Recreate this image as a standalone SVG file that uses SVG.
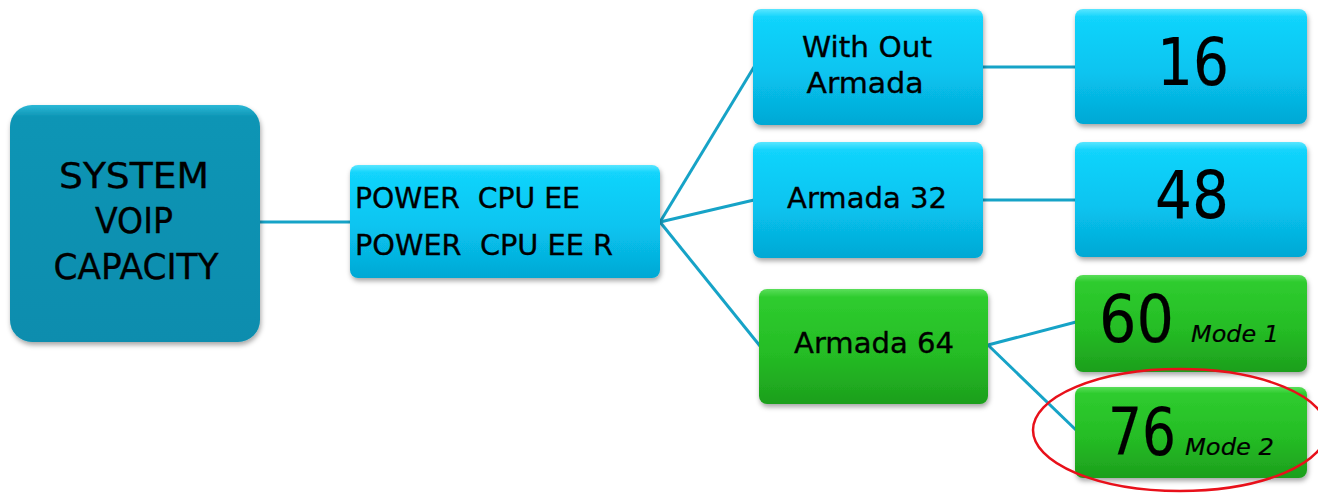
<svg xmlns="http://www.w3.org/2000/svg" width="1318" height="495" viewBox="0 0 1318 495">
<defs>
<linearGradient id="gCyan" x1="0" y1="0" x2="0" y2="1">
<stop offset="0" stop-color="#5ae6ff"/>
<stop offset="0.07" stop-color="#12d4fc"/>
<stop offset="0.55" stop-color="#08c4f0"/>
<stop offset="1" stop-color="#04a8d4"/>
</linearGradient>
<linearGradient id="gGreen" x1="0" y1="0" x2="0" y2="1">
<stop offset="0" stop-color="#5ade5a"/>
<stop offset="0.07" stop-color="#2fcc2f"/>
<stop offset="0.55" stop-color="#25bd25"/>
<stop offset="1" stop-color="#1d9f1d"/>
</linearGradient>
<linearGradient id="gTeal" x1="0" y1="0" x2="0" y2="1">
<stop offset="0" stop-color="#2cb8d6"/>
<stop offset="0.05" stop-color="#0c95b5"/>
<stop offset="1" stop-color="#088dae"/>
</linearGradient>
<filter id="sh" x="-10%" y="-10%" width="120%" height="130%">
<feDropShadow dx="1" dy="3" stdDeviation="2.5" flood-color="#000" flood-opacity="0.35"/>
</filter>
</defs>
<style>
.box{filter:url(#sh);}
.cyan{fill:url(#gCyan);}
.green{fill:url(#gGreen);}
.teal{fill:url(#gTeal);}
.t{font-family:"DejaVu Sans",Verdana,sans-serif;fill:#000;stroke:#000;stroke-width:0.35;}
.c{text-anchor:middle;}
.lbl{font-size:29px;}
.num{font-size:66px;stroke-width:0.2;}
.mode{font-size:23px;font-style:italic;stroke-width:0.2;}
.conn{stroke:#16a3c7;stroke-width:3;fill:none;}
</style>
<rect width="1318" height="495" fill="#fff"/>
<g id="connectors">
<line class="conn" x1="258" y1="222" x2="352" y2="222"/>
<line class="conn" x1="660" y1="222" x2="754" y2="67"/>
<line class="conn" x1="660" y1="222" x2="754" y2="200"/>
<line class="conn" x1="660" y1="222" x2="760" y2="346"/>
<line class="conn" x1="982" y1="67" x2="1076" y2="67"/>
<line class="conn" x1="982" y1="200" x2="1076" y2="200"/>
<line class="conn" x1="988" y1="345" x2="1076" y2="322"/>
<line class="conn" x1="988" y1="345" x2="1076" y2="430"/>
</g>
<g id="system">
<rect class="box teal" x="10" y="105" width="250" height="237" rx="22"/>
<text class="t c" x="134" y="188" font-size="35" textLength="150" lengthAdjust="spacingAndGlyphs">SYSTEM</text>
<text class="t c" x="134" y="233" font-size="35" textLength="78" lengthAdjust="spacingAndGlyphs">VOIP</text>
<text class="t c" x="136" y="279" font-size="35" textLength="165" lengthAdjust="spacingAndGlyphs">CAPACITY</text>
</g>
<g id="power">
<rect class="box cyan" x="350" y="165" width="310" height="113" rx="8"/>
<text class="t lbl" x="355" y="208" textLength="225" lengthAdjust="spacingAndGlyphs">POWER&#160; CPU EE</text>
<text class="t lbl" x="355" y="255" textLength="258" lengthAdjust="spacingAndGlyphs">POWER&#160; CPU EE R</text>
</g>
<g id="without">
<rect class="box cyan" x="753" y="9" width="230" height="116" rx="8"/>
<text class="t c lbl" x="867" y="57" textLength="130" lengthAdjust="spacingAndGlyphs">With Out</text>
<text class="t c lbl" x="865" y="93" textLength="117" lengthAdjust="spacingAndGlyphs">Armada</text>
</g>
<g id="armada32">
<rect class="box cyan" x="753" y="142" width="230" height="116" rx="8"/>
<text class="t c lbl" x="867" y="208" textLength="160" lengthAdjust="spacingAndGlyphs">Armada 32</text>
</g>
<g id="armada64">
<rect class="box green" x="759" y="289" width="229" height="115" rx="8"/>
<text class="t c lbl" x="874" y="353" textLength="160" lengthAdjust="spacingAndGlyphs">Armada 64</text>
</g>
<g id="v16">
<rect class="box cyan" x="1075" y="9" width="232" height="115" rx="8"/>
<text class="t c num" x="1193" y="85" textLength="72" lengthAdjust="spacingAndGlyphs">16</text>
</g>
<g id="v48">
<rect class="box cyan" x="1075" y="142" width="232" height="115" rx="8"/>
<text class="t c num" x="1192" y="218" textLength="74" lengthAdjust="spacingAndGlyphs">48</text>
</g>
<g id="v60">
<rect class="box green" x="1075" y="275" width="232" height="97" rx="8"/>
<text class="t num" x="1099" y="342" textLength="75" lengthAdjust="spacingAndGlyphs">60</text>
<text class="t mode" x="1191" y="342" textLength="88" lengthAdjust="spacingAndGlyphs">Mode 1</text>
</g>
<g id="v76">
<rect class="box green" x="1075" y="387" width="232" height="91" rx="8"/>
<text class="t num" x="1108" y="455" textLength="68" lengthAdjust="spacingAndGlyphs">76</text>
<text class="t mode" x="1185" y="455" textLength="89" lengthAdjust="spacingAndGlyphs">Mode 2</text>
</g>
<ellipse id="highlight" cx="1180" cy="430" rx="147" ry="61" fill="none" stroke="#e8101a" stroke-width="2.5"/>
</svg>
